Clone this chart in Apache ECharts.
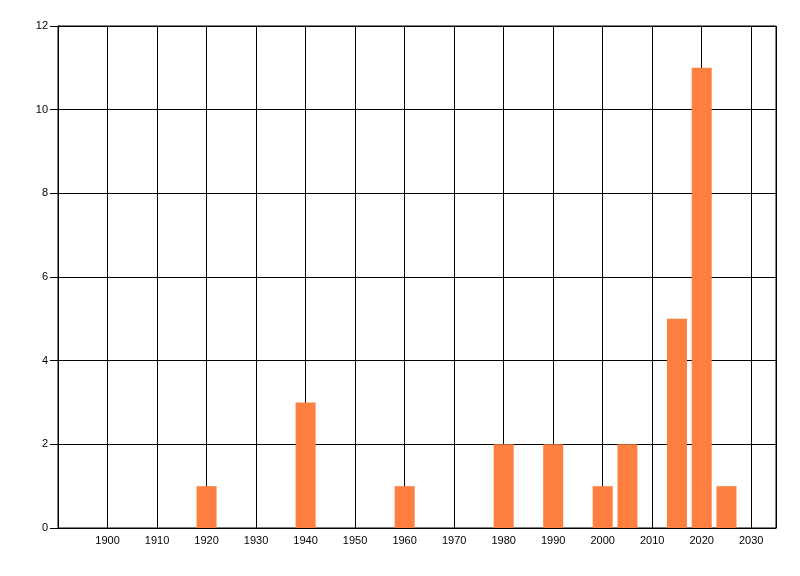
<!DOCTYPE html>
<html>
<head>
<meta charset="utf-8">
<script src="https://cdn.jsdelivr.net/npm/echarts@6/dist/echarts.min.js"></script>
<style>html,body{margin:0;padding:0;background:#fff}#c{width:800px;height:576px}</style>
</head>
<body>
<div id="c"></div>
<script>
var years = [1920, 1940, 1960, 1980, 1990, 2000, 2005, 2015, 2020, 2025];
var counts = [1, 3, 1, 2, 2, 1, 2, 5, 11, 1];
var xTicks = [1900, 1910, 1920, 1930, 1940, 1950, 1960, 1970, 1980, 1990, 2000, 2010, 2020, 2030];
var yTicks = [0, 2, 4, 6, 8, 10, 12];

var chart = echarts.init(document.getElementById('c'), null, {renderer: 'canvas'});
var font = 'Liberation Sans';
chart.setOption({
  animation: false,
  grid: {left: 58, right: 24, top: 26, bottom: 48, show: true, borderColor: '#000', borderWidth: 1, containLabel: false},
  xAxis: {
    type: 'value', min: 1890, max: 2035, interval: 10,
    axisLine: {show: true, lineStyle: {color: '#000', width: 1}},
    axisTick: {show: false},
    splitLine: {show: true, lineStyle: {color: '#000', width: 1}},
    axisLabel: {
      color: '#000', fontFamily: font, fontSize: 11, margin: 7,
      showMinLabel: false, showMaxLabel: false,
      formatter: function (v) { return xTicks.indexOf(v) >= 0 ? String(v) : ''; }
    }
  },
  yAxis: {
    type: 'value', min: 0, max: 12, interval: 2,
    axisLine: {show: true, lineStyle: {color: '#000', width: 1}},
    axisTick: {show: true, length: 8, lineStyle: {color: '#000', width: 1}},
    splitLine: {show: true, lineStyle: {color: '#000', width: 1}},
    axisLabel: {
      color: '#000', fontFamily: font, fontSize: 11, margin: 10,
      formatter: function (v) { return yTicks.indexOf(v) >= 0 ? String(v) : ''; }
    }
  },
  series: [{
    type: 'bar',
    barWidth: 20,
    itemStyle: {color: '#ff7f40'},
    data: years.map(function (y, i) { return [y, counts[i]]; })
  }]
});
</script>
</body>
</html>
